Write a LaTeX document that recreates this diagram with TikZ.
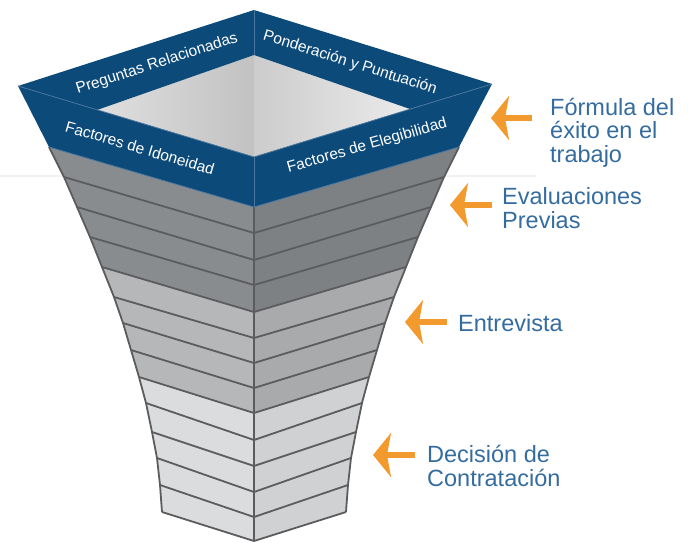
\documentclass[tikz,border=0pt]{standalone}
\usepackage{fontspec}
\setmainfont{Liberation Sans}
\definecolor{rimblue}{RGB}{12, 74, 122}
\definecolor{rimline}{RGB}{74, 118, 158}
\definecolor{labelblue}{RGB}{52, 108, 160}
\definecolor{arroworange}{RGB}{243, 154, 46}
\definecolor{darkL}{RGB}{137, 140, 143}
\definecolor{darkR}{RGB}{126, 129, 132}
\definecolor{midL}{RGB}{181, 183, 185}
\definecolor{midR}{RGB}{168, 170, 172}
\definecolor{lightL}{RGB}{218, 220, 221}
\definecolor{lightR}{RGB}{207, 209, 211}
\definecolor{stripeline}{RGB}{92, 92, 94}
\usetikzlibrary{arrows.meta, calc}

\begin{document}
\begin{tikzpicture}[x=1pt, y=-1pt,
  rimtext/.style={text=white, font=\fontsize{15.5}{16}\selectfont, inner sep=0pt},
  steplabel/.style={text=labelblue, font=\fontsize{23.5}{23.3}\selectfont, align=left, inner sep=0pt, anchor=base west},
  orarrow/.style={draw=arroworange, fill=arroworange, line width=5.5pt, -{Stealth[length=18pt, width=44pt, inset=4pt]}},
  edgeline/.style={draw=rimline, line width=0.8pt},
  stripe/.style={draw=stripeline, line width=1.8pt, line join=round}]
  \useasboundingbox (0,0) rectangle (691,542);

  % faint rule behind the funnel
  \draw[gray!10, line width=1.2pt] (0,176) -- (536,176);

  % funnel points: left edge, centre fold, right edge
  \foreach \i/\yl/\yc/\d in {0/147/207/205, 1/177/233/190, 2/207/260/177, 3/237/285/164,
      4/267/312/152, 5/297/338/140, 6/323/363/131, 7/350/388/123, 8/377/413/115,
      9/403/440/108, 10/432/466/102, 11/458/492/97, 12/485/517/94, 13/512/541/92}
    {\coordinate (l\i) at (254-\d,\yl);
     \coordinate (c\i) at (254,\yc);
     \coordinate (r\i) at (254+\d,\yl);}

  % grey bands
  \foreach \i/\tone in {0/dark, 1/dark, 2/dark, 3/dark, 4/mid, 5/mid, 6/mid, 7/mid,
      8/light, 9/light, 10/light, 11/light, 12/light}
    {\pgfmathtruncatemacro{\j}{\i+1}
     \fill[\tone L] (l\i) -- (c\i) -- (c\j) -- (l\j) -- cycle;
     \fill[\tone R] (c\i) -- (r\i) -- (r\j) -- (c\j) -- cycle;}

  % stripes and outline
  \foreach \i in {1,...,13}
    \draw[stripe] (l\i) -- (c\i) -- (r\i);
  \draw[stripe] (c0) -- (c13);
  \draw[stripe] (l0) \foreach \i in {1,...,13} {-- (l\i)};
  \draw[stripe] (r0) \foreach \i in {1,...,13} {-- (r\i)};

  % top rim
  \coordinate (T) at (254,10);
  \coordinate (L) at (18,86);
  \coordinate (R) at (492,84);
  \coordinate (Ti) at (254,55);
  \coordinate (Li) at (97,110);
  \coordinate (Ri) at (410,109);
  \coordinate (Fi) at (254,157);

  \shade[left color=gray!25, right color=gray!48] (Li) -- (Ti) -- (Fi) -- cycle;
  \shade[left color=gray!40, right color=gray!16] (Ti) -- (Ri) -- (Fi) -- cycle;
  \fill[rimblue] (L) -- (T) -- (Ti) -- (Li) -- cycle;
  \fill[rimblue] (T) -- (R) -- (Ri) -- (Ti) -- cycle;
  \fill[rimblue] (L) -- (Fi) -- (c0) -- (l0) -- cycle;
  \fill[rimblue] (Fi) -- (R) -- (r0) -- (c0) -- cycle;
  \draw[edgeline] (T) -- (Ti);
  \draw[edgeline] (L) -- (Fi) -- (R);
  \draw[edgeline] (Fi) -- (c0);
  \draw[edgeline] (l0) -- (c0) -- (r0);

  \node[rimtext, rotate=18] (preguntas) at (157,64) {Preguntas Relacionadas};
  \node[rimtext, rotate=-17.5] (ponderacion) at (350,63) {Ponderación y Puntuación};
  \node[rimtext, rotate=-16.5] (idoneidad) at (140,148) {Factores de Idoneidad};
  \node[rimtext, rotate=16] (elegibilidad) at (367,146) {Factores de Elegibilidad};

  % stage labels (base is the last line)
  \node[steplabel] (formula) at (550,162) {Fórmula del\\éxito en el\\trabajo};
  \node[steplabel] (evaluaciones) at (502,228) {Evaluaciones\\Previas};
  \node[steplabel] (entrevista) at (458,331) {Entrevista};
  \node[steplabel] (decision) at (427,486) {Decisión de\\Contratación};

  % arrows
  \coordinate (tip1) at (491,118);
  \coordinate (tip2) at (450,205);
  \coordinate (tip3) at (405,322);
  \coordinate (tip4) at (373,455);
  \draw[orarrow] ($(formula.west |- tip1)+(-18,0)$) -- (tip1);
  \draw[orarrow] ($(evaluaciones.west |- tip2)+(-10,0)$) -- (tip2);
  \draw[orarrow] ($(entrevista.west |- tip3)+(-11,0)$) -- (tip3);
  \draw[orarrow] ($(decision.west |- tip4)+(-12,0)$) -- (tip4);
\end{tikzpicture}
\end{document}
